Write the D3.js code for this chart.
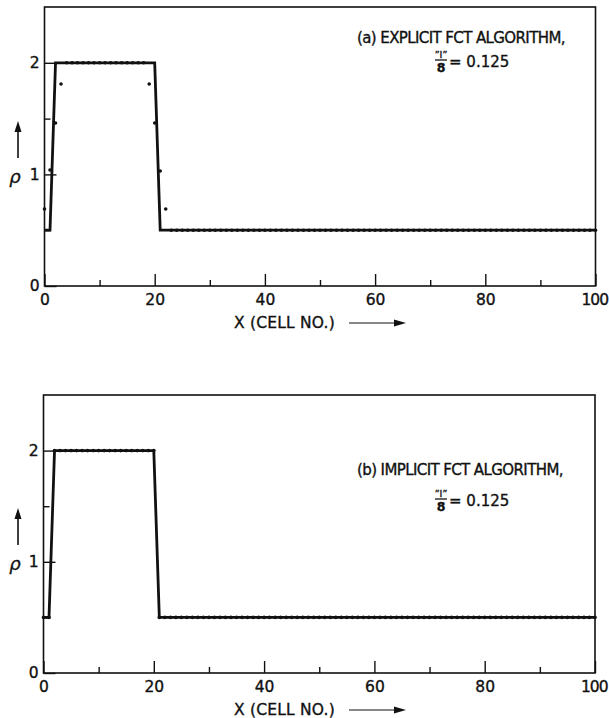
<!DOCTYPE html>
<html>
<head>
<meta charset="utf-8">
<script src="https://cdn.jsdelivr.net/npm/d3@7"></script>
<style>
  body { margin: 0; background: #fff; }
  svg text { font-family: "DejaVu Sans", sans-serif; fill: #111; stroke: #111; stroke-width: 0.35; }
</style>
</head>
<body>
<svg id="chart" width="609" height="718"></svg>
<script>
// cell numbers along x
const cells = d3.range(0, 101);

// exact square wave (solid line)
const exactX = [0, 1, 2, 20, 21, 100];
const exactRho = [0.5, 0.5, 2, 2, 0.5, 0.5];

// computed density per cell, explicit FCT (dots)
const explicitRho = [
  0.69, 1.04, 1.46, 1.81, 2, 2, 2, 2, 2, 2,
  2, 2, 2, 2, 2, 2, 2, 2, 2, 1.81,
  1.46, 1.03, 0.69, 0.5, 0.5, 0.5, 0.5, 0.5, 0.5, 0.5,
  0.5, 0.5, 0.5, 0.5, 0.5, 0.5, 0.5, 0.5, 0.5, 0.5,
  0.5, 0.5, 0.5, 0.5, 0.5, 0.5, 0.5, 0.5, 0.5, 0.5,
  0.5, 0.5, 0.5, 0.5, 0.5, 0.5, 0.5, 0.5, 0.5, 0.5,
  0.5, 0.5, 0.5, 0.5, 0.5, 0.5, 0.5, 0.5, 0.5, 0.5,
  0.5, 0.5, 0.5, 0.5, 0.5, 0.5, 0.5, 0.5, 0.5, 0.5,
  0.5, 0.5, 0.5, 0.5, 0.5, 0.5, 0.5, 0.5, 0.5, 0.5,
  0.5, 0.5, 0.5, 0.5, 0.5, 0.5, 0.5, 0.5, 0.5, 0.5,
  0.5
];

// computed density per cell, implicit FCT (dots sit on the line)
const implicitRho = [
  0.5, 0.5, 2, 2, 2, 2, 2, 2, 2, 2,
  2, 2, 2, 2, 2, 2, 2, 2, 2, 2,
  2, 0.5, 0.5, 0.5, 0.5, 0.5, 0.5, 0.5, 0.5, 0.5,
  0.5, 0.5, 0.5, 0.5, 0.5, 0.5, 0.5, 0.5, 0.5, 0.5,
  0.5, 0.5, 0.5, 0.5, 0.5, 0.5, 0.5, 0.5, 0.5, 0.5,
  0.5, 0.5, 0.5, 0.5, 0.5, 0.5, 0.5, 0.5, 0.5, 0.5,
  0.5, 0.5, 0.5, 0.5, 0.5, 0.5, 0.5, 0.5, 0.5, 0.5,
  0.5, 0.5, 0.5, 0.5, 0.5, 0.5, 0.5, 0.5, 0.5, 0.5,
  0.5, 0.5, 0.5, 0.5, 0.5, 0.5, 0.5, 0.5, 0.5, 0.5,
  0.5, 0.5, 0.5, 0.5, 0.5, 0.5, 0.5, 0.5, 0.5, 0.5,
  0.5
];

// ticks
const xMajor = [0, 20, 40, 60, 80, 100];
const xMinor = [10, 30, 50, 70, 90];
const yMajor = [0, 1, 2];
const yMinor = [0.5, 1.5];

const panels = [
  { left: 44.5, right: 595.5, top: 7, bottom: 286, rho: explicitRho,
    title: "(a) EXPLICIT FCT ALGORITHM,", titleX: 357, titleY: 43, fracX: 441, fracY: 67 },
  { left: 43.5, right: 595, top: 395, bottom: 673, rho: implicitRho,
    title: "(b) IMPLICIT FCT ALGORITHM,", titleX: 357, titleY: 475, fracX: 441, fracY: 506 }
];

const svg = d3.select("#chart");

panels.forEach(p => {
  const g = svg.append("g");
  const x = d3.scaleLinear().domain([0, 100]).range([p.left, p.right]);
  const y = d3.scaleLinear().domain([0, 2.5]).range([p.bottom, p.top]);

  // frame
  g.append("rect")
    .attr("x", p.left).attr("y", p.top)
    .attr("width", p.right - p.left).attr("height", p.bottom - p.top)
    .attr("fill", "none").attr("stroke", "#111").attr("stroke-width", 1.6);

  // x axis, ticks pointing inward
  g.append("g")
    .attr("transform", `translate(0,${p.bottom})`)
    .call(d3.axisBottom(x).tickValues(xMajor).tickSizeInner(-12).tickSizeOuter(0).tickPadding(8).tickFormat(d => d));
  g.append("g")
    .attr("transform", `translate(0,${p.bottom})`)
    .call(d3.axisBottom(x).tickValues(xMinor).tickSizeInner(-6).tickSizeOuter(0).tickFormat(""));

  // y axis
  g.append("g")
    .attr("transform", `translate(${p.left},0)`)
    .call(d3.axisLeft(y).tickValues(yMajor).tickSizeInner(-12).tickSizeOuter(0).tickPadding(5).tickFormat(d => d));
  g.append("g")
    .attr("transform", `translate(${p.left},0)`)
    .call(d3.axisLeft(y).tickValues(yMinor).tickSizeInner(-6).tickSizeOuter(0).tickFormat(""));

  g.selectAll(".domain").remove();
  g.selectAll(".tick line").attr("stroke", "#111").attr("stroke-width", 1.4);
  g.selectAll(".tick text").attr("font-size", 15.5).attr("fill", "#111")
    .style("font-family", "DejaVu Sans, sans-serif");
  // the last label sits against the page edge, as in the print
  g.selectAll(".tick text").filter(d => d === 100)
    .attr("text-anchor", "end").attr("dx", 12).attr("letter-spacing", -1);

  // exact profile
  const line = d3.line().x(d => x(d)).y((d, i) => y(exactRho[i]));
  g.append("path")
    .attr("d", line(exactX))
    .attr("fill", "none").attr("stroke", "#111").attr("stroke-width", 2.8)
    .attr("stroke-linejoin", "miter");

  // computed values
  g.selectAll(".pt")
    .data(cells)
    .join("circle")
      .attr("class", "pt")
      .attr("cx", d => x(d))
      .attr("cy", d => y(p.rho[d]))
      .attr("r", 1.8)
      .attr("fill", "#111");

  // rho label with arrow
  g.append("text")
    .attr("x", 15).attr("y", p.bottom - 103)
    .attr("text-anchor", "middle")
    .attr("font-size", 18).attr("font-style", "italic")
    .text("ρ");
  g.append("line")
    .attr("x1", 18).attr("x2", 18)
    .attr("y1", p.bottom - 128).attr("y2", p.bottom - 156)
    .attr("stroke", "#111").attr("stroke-width", 1.6);
  g.append("path")
    .attr("d", `M18,${p.bottom - 165}L14.5,${p.bottom - 154}L21.5,${p.bottom - 154}Z`)
    .attr("fill", "#111");

  // x label with arrow
  g.append("text")
    .attr("x", 234).attr("y", p.bottom + 42)
    .attr("font-size", 15.5).attr("letter-spacing", 0.2)
    .text("X (CELL NO.)");
  g.append("line")
    .attr("x1", 349).attr("x2", 398)
    .attr("y1", p.bottom + 37).attr("y2", p.bottom + 37)
    .attr("stroke", "#111").attr("stroke-width", 1.2);
  g.append("path")
    .attr("d", `M406,${p.bottom + 37}L394,${p.bottom + 33.5}L394,${p.bottom + 40.5}Z`)
    .attr("fill", "#111");

  // annotation
  g.append("text")
    .attr("x", p.titleX).attr("y", p.titleY)
    .attr("font-size", 15).attr("letter-spacing", -0.6)
    .text(p.title);
  g.append("text")
    .attr("x", p.fracX).attr("y", p.fracY - 9)
    .attr("text-anchor", "middle").attr("font-size", 9.5)
    .text("\u201DI\u201D");
  g.append("line")
    .attr("x1", p.fracX - 6).attr("x2", p.fracX + 6)
    .attr("y1", p.fracY - 7).attr("y2", p.fracY - 7)
    .attr("stroke", "#111").attr("stroke-width", 1.3);
  g.append("text")
    .attr("x", p.fracX).attr("y", p.fracY + 5)
    .attr("text-anchor", "middle").attr("font-size", 12.5).attr("font-weight", "bold")
    .text("8");
  g.append("text")
    .attr("x", p.fracX + 8).attr("y", p.fracY)
    .attr("font-size", 15)
    .text("= 0.125");
});
</script>
</body>
</html>
